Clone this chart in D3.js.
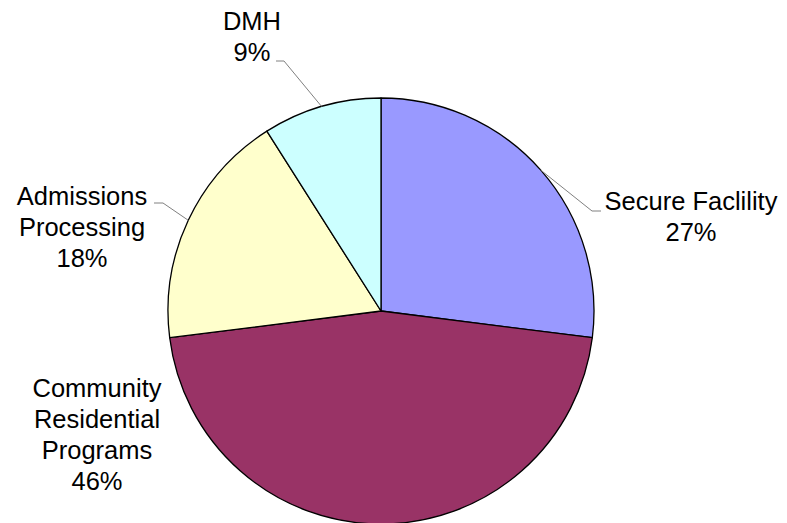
<!DOCTYPE html>
<html>
<head>
<meta charset="utf-8">
<script src="https://cdn.jsdelivr.net/npm/d3@7"></script>
<style>
  html, body { margin: 0; padding: 0; background: #fff; }
  svg text { font-family: "Liberation Sans", Arial, sans-serif; font-size: 25.5px; fill: #000; }
</style>
</head>
<body>
<svg id="chart" width="787" height="523"></svg>
<script>
// Data
const categories = ['Secure Faclility', 'Community Residential Programs', 'Admissions Processing', 'DMH'];
const values = [27, 46, 18, 9];
const colors = ['#9999ff', '#993366', '#ffffcc', '#ccffff'];

// Label layout: text lines, centre x, first baseline, leader elbow (null = no leader)
const labelLayout = [
  { lines: ['Secure Faclility'], x: 691, y: 210, elbow: [592, 211], end: [601, 211] },
  { lines: ['Community', 'Residential', 'Programs'], x: 97, y: 397, elbow: null },
  { lines: ['Admissions', 'Processing'], x: 82, y: 205, elbow: [163, 203], end: [154, 203] },
  { lines: ['DMH'], x: 252, y: 30, elbow: [284, 61], end: [276, 61] }
];

const width = 787, height = 523;
const cx = 381, cy = 311, r = 213;
const lineH = 31;

const svg = d3.select('#chart');
const g = svg.append('g').attr('transform', `translate(${cx},${cy})`);

const pie = d3.pie().sort(null).value(d => d.value);
const arcs = pie(categories.map((c, i) => ({ name: c, value: values[i], i })));
const arc = d3.arc().innerRadius(0).outerRadius(r);

g.selectAll('path.slice')
  .data(arcs)
  .enter().append('path')
  .attr('class', 'slice')
  .attr('d', arc)
  .attr('fill', d => colors[d.data.i])
  .attr('stroke', '#000')
  .attr('stroke-width', 1.3)
  .attr('stroke-linejoin', 'round');

// Leader lines start at the slice's mid-angle on the rim
arcs.forEach(d => {
  const L = labelLayout[d.data.i];
  if (!L.elbow) return;
  const a = (d.startAngle + d.endAngle) / 2;
  const px = cx + r * Math.sin(a), py = cy - r * Math.cos(a);
  svg.append('polyline')
    .attr('points', [[px, py], L.elbow, L.end].map(p => p.join(',')).join(' '))
    .attr('fill', 'none')
    .attr('stroke', '#808080')
    .attr('stroke-width', 1);
});

// Labels
arcs.forEach(d => {
  const L = labelLayout[d.data.i];
  const t = svg.append('text')
    .attr('text-anchor', 'middle')
    .attr('x', L.x)
    .attr('y', L.y);
  const lines = L.lines.concat([d.data.value + '%']);
  lines.forEach((s, k) => {
    t.append('tspan').attr('x', L.x).attr('dy', k === 0 ? 0 : lineH).text(s);
  });
});
</script>
</body>
</html>
